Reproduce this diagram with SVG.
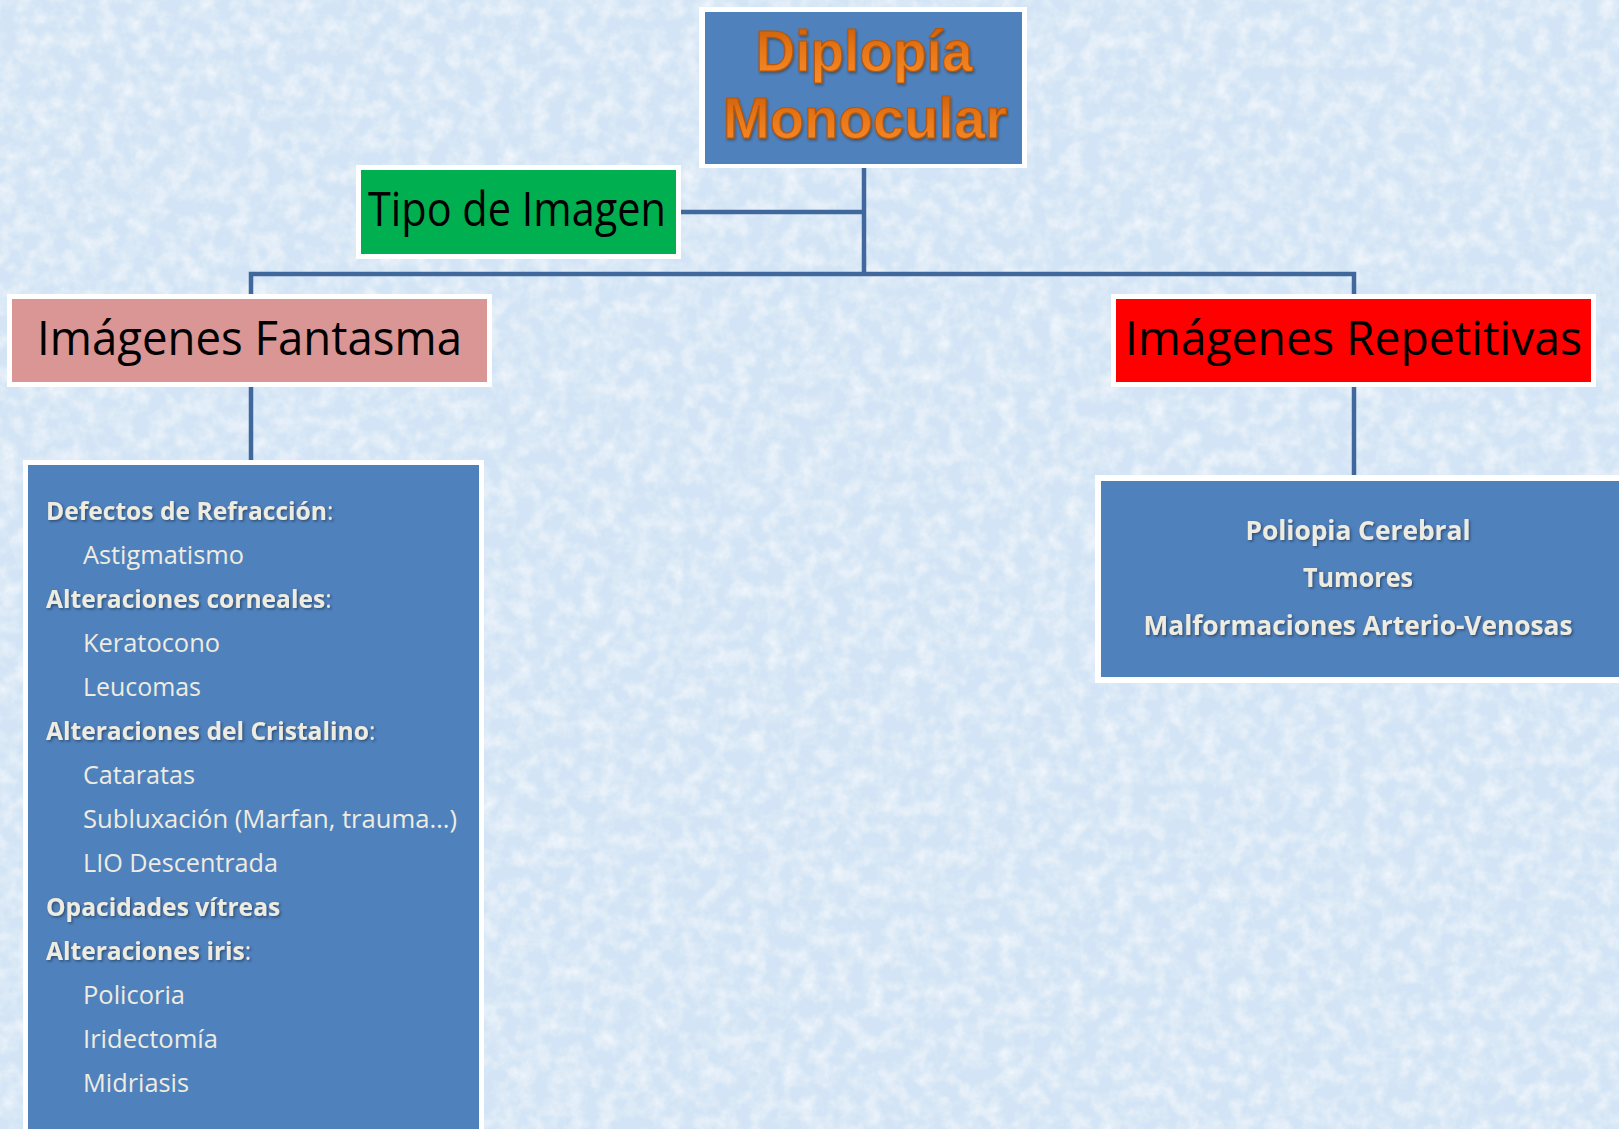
<svg xmlns="http://www.w3.org/2000/svg" width="1619" height="1129" viewBox="0 0 1619 1129">
  <defs>
    <style>
      .frame { fill: #ffffff; }
      .wire { fill: none; stroke: #41689c; stroke-width: 4.5; }
      .title { font-family: "Liberation Sans", Arial, sans-serif; font-weight: 700; font-size: 57px; fill: url(#orangeGrad); stroke: #b85508; stroke-width: 1.2; text-anchor: middle; }
      .label { font-family: "Open Sans", "Noto Sans", sans-serif; font-size: 47px; fill: #000000; }
      .item { font-family: "Open Sans", "Noto Sans", sans-serif; font-size: 26px; fill: #eeece1; }
      .head { font-weight: 700; font-size: 24.6px; }
      .plain { font-weight: 400; }
      .center { text-anchor: middle; }
    </style>
    <linearGradient id="orangeGrad" x1="0" y1="0" x2="0" y2="1">
      <stop offset="0" stop-color="#c4590a"/>
      <stop offset="0.45" stop-color="#e67516"/>
      <stop offset="1" stop-color="#f98d2a"/>
    </linearGradient>
    <filter id="paper" x="0" y="0" width="100%" height="100%">
      <feTurbulence type="fractalNoise" baseFrequency="0.06" numOctaves="4" seed="11" result="n"/>
      <feColorMatrix in="n" type="matrix" values="0 0 0 0 1  0 0 0 0 1  0 0 0 0 1  0 0 0 1.1 -0.4" result="w"/>
      <feComposite in="w" in2="SourceGraphic" operator="over"/>
    </filter>
    <filter id="shadow" x="-5%" y="-20%" width="110%" height="150%">
      <feDropShadow dx="1.5" dy="1.5" stdDeviation="1" flood-color="#1a2a40" flood-opacity="0.6"/>
    </filter>
    <filter id="titleShadow" x="-5%" y="-10%" width="110%" height="130%">
      <feDropShadow dx="1" dy="2" stdDeviation="1.2" flood-color="#3a2000" flood-opacity="0.45"/>
    </filter>
  </defs>

  <!-- textured light blue backdrop -->
  <rect x="0" y="0" width="1619" height="1129" fill="#d2e4f5" filter="url(#paper)"/>

  <!-- connectors -->
  <g id="connectors">
    <path class="wire" d="M864 168 V274"/>
    <path class="wire" d="M681 212 H864"/>
    <path class="wire" d="M251 296 V274 H1354 V296"/>
    <path class="wire" d="M251 387 V463"/>
    <path class="wire" d="M1354 387 V477"/>
  </g>

  <!-- root -->
  <g id="node-diplopia">
    <rect class="frame" x="699" y="7" width="328" height="161"/>
    <rect x="705" y="12" width="317" height="152" fill="#4f81bd"/>
    <g filter="url(#titleShadow)">
      <text class="title" x="864" y="71" textLength="217" lengthAdjust="spacingAndGlyphs">Diplopía</text>
      <text class="title" x="865" y="138" textLength="284" lengthAdjust="spacingAndGlyphs">Monocular</text>
    </g>
  </g>

  <g id="node-tipo">
    <rect class="frame" x="356" y="165" width="325" height="94"/>
    <rect x="361" y="170" width="315" height="84" fill="#00b050"/>
    <text class="label" x="368" y="226" textLength="298" lengthAdjust="spacingAndGlyphs">Tipo de Imagen</text>
  </g>

  <g id="node-fantasma">
    <rect class="frame" x="7" y="294" width="485" height="93"/>
    <rect x="12" y="299" width="475" height="83" fill="#d99694"/>
    <text class="label" x="37" y="355" textLength="425" lengthAdjust="spacingAndGlyphs">Imágenes Fantasma</text>
  </g>

  <g id="node-repetitivas">
    <rect class="frame" x="1111" y="294" width="485" height="93"/>
    <rect x="1116" y="299" width="475" height="83" fill="#ff0000"/>
    <text class="label" x="1125" y="355" textLength="457" lengthAdjust="spacingAndGlyphs">Imágenes Repetitivas</text>
  </g>

  <!-- left detail list -->
  <g id="node-fantasma-list">
    <rect class="frame" x="23" y="460" width="461" height="680"/>
    <rect x="28" y="465" width="451" height="680" fill="#4f81bd"/>
    <g class="item">
      <g class="head" filter="url(#shadow)">
        <text x="46" y="520">Defectos de Refracción<tspan class="plain">:</tspan></text>
        <text x="46" y="608">Alteraciones corneales<tspan class="plain">:</tspan></text>
        <text x="46" y="740">Alteraciones del Cristalino<tspan class="plain">:</tspan></text>
        <text x="46" y="916">Opacidades vítreas</text>
        <text x="46" y="960">Alteraciones iris<tspan class="plain">:</tspan></text>
      </g>
      <text x="83" y="564" textLength="161" lengthAdjust="spacingAndGlyphs">Astigmatismo</text>
      <text x="83" y="652" textLength="137" lengthAdjust="spacingAndGlyphs">Keratocono</text>
      <text x="83" y="696" textLength="118" lengthAdjust="spacingAndGlyphs">Leucomas</text>
      <text x="83" y="784" textLength="112" lengthAdjust="spacingAndGlyphs">Cataratas</text>
      <text x="83" y="828" textLength="374" lengthAdjust="spacingAndGlyphs">Subluxación (Marfan, trauma…)</text>
      <text x="83" y="872" textLength="195" lengthAdjust="spacingAndGlyphs">LIO Descentrada</text>
      <text x="83" y="1004" textLength="102" lengthAdjust="spacingAndGlyphs">Policoria</text>
      <text x="83" y="1048" textLength="135" lengthAdjust="spacingAndGlyphs">Iridectomía</text>
      <text x="83" y="1092" textLength="106" lengthAdjust="spacingAndGlyphs">Midriasis</text>
    </g>
  </g>

  <!-- right detail list -->
  <g id="node-repetitivas-list">
    <rect class="frame" x="1095" y="475" width="540" height="208"/>
    <rect x="1101" y="481" width="540" height="196" fill="#4f81bd"/>
    <g class="item center" font-weight="700" filter="url(#shadow)">
      <text x="1358" y="540" textLength="225" lengthAdjust="spacingAndGlyphs">Poliopia Cerebral</text>
      <text x="1358" y="587" textLength="110" lengthAdjust="spacingAndGlyphs">Tumores</text>
      <text x="1358" y="635" textLength="429" lengthAdjust="spacingAndGlyphs">Malformaciones Arterio-Venosas</text>
    </g>
  </g>
</svg>
